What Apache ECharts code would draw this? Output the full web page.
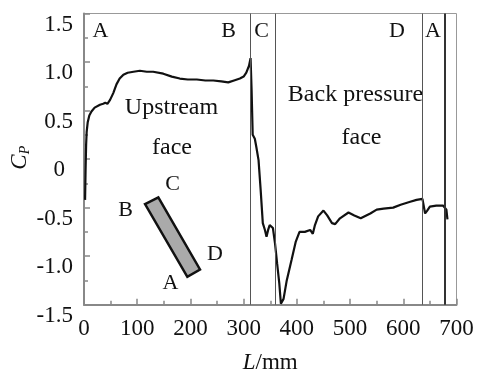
<!DOCTYPE html>
<html>
<head>
<meta charset="utf-8">
<script src="https://cdn.jsdelivr.net/npm/echarts@6/dist/echarts.min.js"></script>
<style>
  html, body { margin: 0; padding: 0; background: #fff; }
  #main { width: 479px; height: 372px; }
</style>
</head>
<body>
<div id="main"></div>
<script>
// 测点位置 L (mm) 和对应压力系数 Cp
const posL = [2, 3, 4, 5, 7, 10, 14, 20, 30, 36, 40, 44, 49, 55, 61, 67, 74, 82, 93, 105,
  118, 130, 149, 165, 180, 195, 212, 228, 243, 258, 271, 282, 293, 300, 305, 310, 313, 315, 317, 321,
  324, 328, 332, 336, 340, 343, 346, 349, 351, 355, 359, 363, 367, 370, 375, 381, 390, 398, 405, 415,
  425, 430, 434, 440, 450, 457, 466, 472, 481, 497, 508, 520, 538, 550, 563, 581, 595, 613, 625, 636,
  641, 645, 650, 662, 675, 681, 683]
const cpValues = [-0.42, -0.10, 0.15, 0.28, 0.38, 0.45, 0.49, 0.53, 0.56, 0.57, 0.58, 0.57, 0.61, 0.68, 0.77, 0.83, 0.87, 0.89, 0.90, 0.91,
  0.90, 0.90, 0.88, 0.85, 0.83, 0.82, 0.82, 0.81, 0.81, 0.80, 0.79, 0.81, 0.83, 0.85, 0.89, 0.96, 1.04, 0.70, 0.25, 0.21,
  0.12, -0.01, -0.32, -0.66, -0.73, -0.80, -0.73, -0.68, -0.66, -0.71, -0.87, -1.08, -1.28, -1.49, -1.44, -1.25, -1.04, -0.85, -0.75, -0.75,
  -0.73, -0.77, -0.68, -0.59, -0.53, -0.58, -0.66, -0.67, -0.61, -0.55, -0.58, -0.61, -0.56, -0.52, -0.51, -0.50, -0.47, -0.44, -0.42, -0.41,
  -0.56, -0.53, -0.49, -0.48, -0.48, -0.52, -0.62]

// 分区竖线位置
const dividerL = [312, 360, 636.5]
const cornerL = 678

// 截面示意图四个角 (数据坐标)
const shapeCorners = [[114.7, -0.464], [139.7, -0.395], [218, -1.137], [194.2, -1.213]]

const serif = '"Liberation Serif", "DejaVu Serif", serif'

const chart = echarts.init(document.getElementById('main'))

const text = (str, x, y, size) => ({
  type: 'text',
  x, y,
  style: { text: str, font: `${size || 22}px ${serif}`, fill: '#111', align: 'center', verticalAlign: 'middle' }
})

chart.setOption({
  animation: false,
  grid: {
    left: 84, right: 22.5, top: 13.5, bottom: 67.3, outerBoundsMode: 'none',
    show: true, borderColor: '#999', borderWidth: 1
  },
  xAxis: {
    type: 'value', min: 0, max: 700, interval: 100,
    name: '{i|L}/mm', nameLocation: 'middle', nameGap: 47,
    nameTextStyle: {
      fontFamily: serif, fontSize: 23, color: '#111',
      rich: { i: { fontFamily: serif, fontSize: 23, fontStyle: 'italic', color: '#111' } }
    },
    axisLine: { onZero: false, lineStyle: { color: '#888', width: 2 } },
    axisTick: { inside: true, length: 6, lineStyle: { color: '#888', width: 1.5 } },
    minorTick: { show: true, splitNumber: 2, length: 4, lineStyle: { color: '#888', width: 1.5 } },
    axisLabel: { fontFamily: serif, fontSize: 23, color: '#111', margin: 13 },
    splitLine: { show: false }
  },
  yAxis: {
    type: 'value', min: -1.5, max: 1.5, interval: 0.5,
    axisLine: { show: true, lineStyle: { color: '#888', width: 2 } },
    axisTick: { show: true, inside: true, length: 6, lineStyle: { color: '#888', width: 1.5 } },
    minorTick: { show: true, splitNumber: 2, length: 4, lineStyle: { color: '#888', width: 1.5 } },
    axisLabel: {
      fontFamily: serif, fontSize: 23, color: '#111', margin: 11,
      padding: [22, 0, 0, 0],
      formatter: v => v === 0 ? '{z|0}' : v.toFixed(1),
      rich: { z: { fontFamily: serif, fontSize: 23, color: '#111', padding: [0, 8, 0, 0] } }
    },
    splitLine: { show: false }
  },
  series: [{
    type: 'line',
    data: posL.map((l, i) => [l, cpValues[i]]),
    showSymbol: false,
    lineStyle: { color: '#111', width: 2.2 },
    markLine: {
      silent: true, symbol: 'none', label: { show: false },
      data: [
        ...dividerL.map(v => ({ xAxis: v, lineStyle: { color: '#555', width: 1, type: 'solid' } })),
        { xAxis: cornerL, lineStyle: { color: '#333', width: 2, type: 'solid' } }
      ]
    }
  }]
})

// 截面示意图和文字标注
const pts = shapeCorners.map(p => chart.convertToPixel({ gridIndex: 0 }, p))

chart.setOption({
  graphic: [
    {
      type: 'polygon',
      shape: { points: pts },
      style: { fill: '#aaa', stroke: '#111', lineWidth: 2.5 }
    },
    text('A', 100.5, 31.5), text('B', 228.5, 31.5), text('C', 261.5, 31.5),
    text('D', 397, 31.5), text('A', 433, 31.5),
    text('Upstream', 171.5, 108, 24), text('face', 172, 148, 24),
    text('Back pressure', 355.5, 95, 24), text('face', 361.5, 138, 24),
    text('C', 172.5, 184), text('B', 125.5, 210), text('D', 215, 254), text('A', 170.5, 283),
    {
      type: 'group', x: 20, y: 158, rotation: Math.PI / 2,
      children: [
        { type: 'text', x: -4, y: 0, style: { text: 'C', font: `italic 23px ${serif}`, fill: '#111', align: 'center', verticalAlign: 'middle' } },
        { type: 'text', x: 8, y: 5, style: { text: 'P', font: `italic 14px ${serif}`, fill: '#111', align: 'center', verticalAlign: 'middle' } }
      ]
    }
  ]
})
</script>
</body>
</html>
